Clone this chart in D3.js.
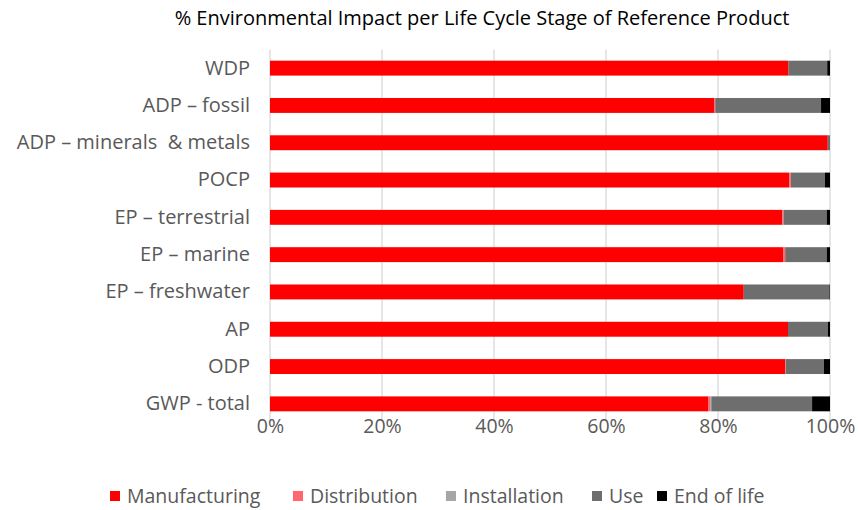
<!DOCTYPE html>
<html><head><meta charset="utf-8">
<script src="https://cdn.jsdelivr.net/npm/d3@7"></script>
<style>body{margin:0;background:#fff}svg{display:block}text{white-space:pre}</style>
</head><body>
<svg id="c" width="858" height="510"></svg>
<script>
const categories = ["WDP","ADP – fossil","ADP – minerals  & metals","POCP","EP – terrestrial","EP – marine","EP – freshwater","AP","ODP","GWP - total"];
const stages = ["Manufacturing","Distribution","Installation","Use","End of life"];
const manufacturing = [92.6,79.3,99.6,92.7,91.5,91.7,84.6,92.5,92.0,78.3];
const distribution  = [0.0, 0.2, 0.0, 0.3, 0.2, 0.3, 0.0, 0.0, 0.1, 0.3];
const installation  = [0.0, 0.0, 0.0, 0.0, 0.0, 0.0, 0.0, 0.0, 0.0, 0.2];
const use           = [6.9, 18.9, 0.4, 6.1, 7.7, 7.4, 15.3, 7.1, 6.8, 18.0];
const endOfLife     = [0.5, 1.6, 0.0, 0.9, 0.6, 0.6, 0.1, 0.4, 1.1, 3.2];
const tickValues = [0,20,40,60,80,100];
const tickLabels = ["0%","20%","40%","60%","80%","100%"];
const colors = ["#FF0000","#FF6670","#A6A6A6","#6E6E6E","#000000"];

const series = [manufacturing, distribution, installation, use, endOfLife];
const rows = categories.map((c,i)=>{const o={cat:c}; stages.forEach((s,j)=>o[s]=series[j][i]); return o;});
const stack = d3.stack().keys(stages)(rows);

const svg = d3.select("#c");
const font = "'Open Sans', sans-serif";
const fs = 19.5;
const x = d3.scaleLinear().domain([0,100]).range([270,830]);
const y = d3.scaleBand().domain(categories).range([49.5,422.5]).paddingInner(0.6).paddingOuter(0.3);

// title
svg.append("text").attr("x",482).attr("y",25).attr("text-anchor","middle")
  .attr("font-family",font).attr("font-size",20).attr("fill","#000")
  .text("% Environmental Impact per Life Cycle Stage of Reference Product");

// gridlines
svg.append("g").selectAll("line").data(tickValues).join("line")
  .attr("x1",d=>x(d)).attr("x2",d=>x(d)).attr("y1",49.5).attr("y2",422.5)
  .attr("stroke","#D9D9D9").attr("stroke-width",1.3);

// bars
svg.append("g").selectAll("g").data(stack).join("g").attr("fill",(d,i)=>colors[i])
  .selectAll("rect").data(d=>d).join("rect")
  .attr("x",d=>x(d[0])).attr("width",d=>Math.max(0,x(d[1])-x(d[0])))
  .attr("y",d=>y(d.data.cat)).attr("height",y.bandwidth());

// axes
const xAxis = d3.axisBottom(x).tickValues(tickValues).tickFormat((d,i)=>tickLabels[i]).tickSize(0).tickPadding(0);
const gx = svg.append("g").attr("transform","translate(0,426)").call(xAxis);
gx.select(".domain").remove();
gx.selectAll("text").attr("font-family",font).attr("font-size",fs).attr("fill","#595959").attr("dy","0.35em");

const yAxis = d3.axisLeft(y).tickSize(0).tickPadding(20);
const gy = svg.append("g").attr("transform","translate(270,0)").call(yAxis);
gy.select(".domain").remove();
gy.selectAll("text").attr("font-family",font).attr("font-size",20).attr("fill","#595959");

// legend
const legendX = [110,293,446,592,657];
const lg = svg.append("g").selectAll("g").data(stages).join("g")
  .attr("transform",(d,i)=>`translate(${legendX[i]},496)`);
lg.append("rect").attr("x",0).attr("y",-5).attr("width",10).attr("height",10).attr("fill",(d,i)=>colors[i]);
lg.append("text").attr("x",17).attr("y",0).attr("dy","0.35em").attr("font-family",font).attr("font-size",fs).attr("fill","#595959").text(d=>d);
</script>
</body></html>
